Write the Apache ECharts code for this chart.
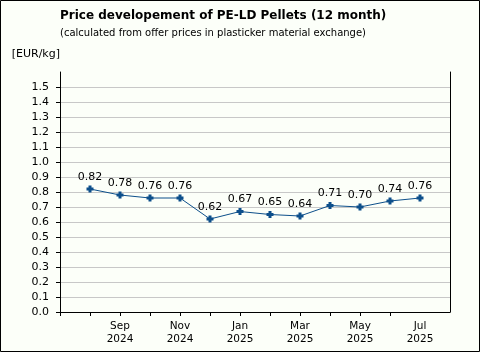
<!DOCTYPE html>
<html>
<head>
<meta charset="utf-8">
<script src="https://cdn.jsdelivr.net/npm/echarts@6/dist/echarts.min.js"></script>
<style>
  html, body { margin: 0; padding: 0; }
  #main { width: 480px; height: 352px; }
</style>
</head>
<body>
<div id="main"></div>
<script>
// monthly prices, Aug 2024 .. Jul 2025
var months = ['Aug\n2024', 'Sep\n2024', 'Oct\n2024', 'Nov\n2024', 'Dec\n2024', 'Jan\n2025',
              'Feb\n2025', 'Mar\n2025', 'Apr\n2025', 'May\n2025', 'Jun\n2025', 'Jul\n2025'];
var prices = [0.82, 0.78, 0.76, 0.76, 0.62, 0.67, 0.65, 0.64, 0.71, 0.70, 0.74, 0.76];
var yTicks = [0, 0.1, 0.2, 0.3, 0.4, 0.5, 0.6, 0.7, 0.8, 0.9, 1.0, 1.1, 1.2, 1.3, 1.4, 1.5];

// one empty slot on each side, like the original
var categories = [''].concat(months, ['']);
var seriesData = [null].concat(prices);

var font = 'DejaVu Sans';
var myChart = echarts.init(document.getElementById('main'));

var gridColors = yTicks.map(function () { return '#c8c8c8'; });
gridColors.push('rgba(0,0,0,0)'); // no line at the top

var option = {
    backgroundColor: '#fcfff9',
    animation: false,
    title: {
        text: 'Price developement of PE-LD Pellets (12 month)',
        subtext: '(calculated from offer prices in plasticker material exchange)',
        left: 60,
        top: 10,
        padding: 0,
        itemGap: 6,
        textStyle: { fontFamily: font, fontSize: 12, fontWeight: 'bold', color: '#000' },
        subtextStyle: { fontFamily: font, fontSize: 10, color: '#000' }
    },
    graphic: [{
        type: 'rect',
        shape: { x: 0.5, y: 0.5, width: 479, height: 351 },
        style: { fill: null, stroke: '#000', lineWidth: 1 },
        silent: true
    }],
    grid: { left: 60, right: 30, top: 72, bottom: 40 },
    xAxis: {
        type: 'category',
        data: categories,
        boundaryGap: false,
        axisLine: { lineStyle: { color: '#000', width: 1 } },
        axisTick: {
            length: 4,
            lineStyle: { color: '#000' },
            interval: function (idx) { return idx <= 11; }
        },
        axisLabel: {
            fontFamily: font, fontSize: 10.5, color: '#000', margin: 8, lineHeight: 13,
            interval: function (idx) { return idx > 0 && idx < 13 && idx % 2 === 0; }
        },
        splitLine: { show: false }
    },
    yAxis: [{
        type: 'value',
        min: 0,
        max: 1.6,
        interval: 0.1,
        name: '[EUR/kg]',
        nameLocation: 'end',
        nameGap: 12,
        nameTextStyle: { fontFamily: font, fontSize: 11, color: '#000', align: 'right' },
        axisLine: { show: true, lineStyle: { color: '#000', width: 1 } },
        axisTick: { show: true, length: 4, lineStyle: { color: '#000' }, customValues: yTicks },
        axisLabel: {
            fontFamily: font, fontSize: 11, color: '#000', margin: 11,
            customValues: yTicks,
            formatter: function (v) { return v.toFixed(1); }
        },
        splitLine: { show: true, lineStyle: { color: gridColors, width: 1 } }
    }, {
        type: 'value',
        position: 'right',
        min: 0,
        max: 1.6,
        axisLine: { show: true, lineStyle: { color: '#000', width: 1 } },
        axisTick: { show: false },
        axisLabel: { show: false },
        splitLine: { show: false }
    }],
    series: [{
        type: 'line',
        data: seriesData,
        symbol: 'path://M2,0 H5 V2 H7 V5 H5 V7 H2 V5 H0 V2 H2 Z',
        symbolSize: 7,
        lineStyle: { color: '#0d4f8b', width: 1 },
        itemStyle: { color: '#0d4f8b' },
        label: {
            show: true,
            position: 'top',
            distance: 3,
            fontFamily: font,
            fontSize: 11,
            color: '#000',
            formatter: function (p) { return p.value.toFixed(2); }
        }
    }]
};

myChart.setOption(option);
</script>
</body>
</html>
